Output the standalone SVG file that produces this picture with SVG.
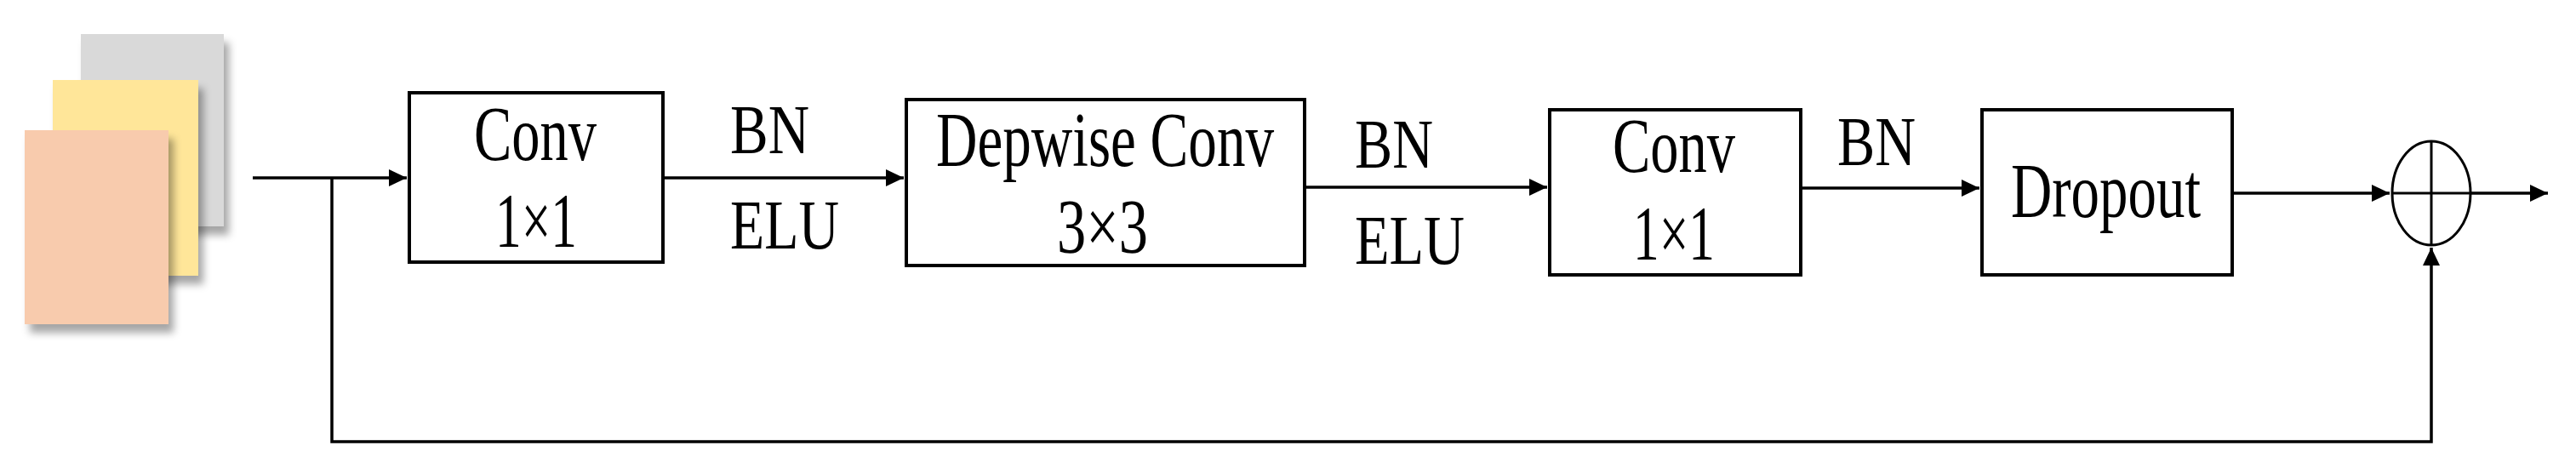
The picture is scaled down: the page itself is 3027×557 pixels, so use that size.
<svg xmlns="http://www.w3.org/2000/svg" width="3027" height="557" viewBox="0 0 3027 557">
<style>
.box{fill:#fff;stroke:#000;stroke-width:4}
.t{font-family:"Liberation Serif",serif;font-size:90px;fill:#000}
.l{font-size:82px}
.c{fill:none;stroke:#000;stroke-width:3.5}
</style>
<defs>
<marker id="a" markerWidth="8" markerHeight="8" refX="7" refY="4" orient="auto" markerUnits="userSpaceOnUse" viewBox="0 0 8 8" style="overflow:visible"><path d="M-14,-6 L7,4 L-14,14 Z" fill="#000"/></marker>
<filter id="sh" x="-20%" y="-20%" width="150%" height="150%"><feDropShadow dx="6" dy="10" stdDeviation="5" flood-color="#000" flood-opacity="0.35"/></filter>
</defs>
<g id="input">
<rect x="95" y="40" width="168" height="226" fill="#d9d9d9" filter="url(#sh)"/>
<rect x="62" y="94" width="171" height="230" fill="#ffe699" filter="url(#sh)"/>
<rect x="29" y="153" width="169" height="228" fill="#f8cbad" filter="url(#sh)"/>
</g>
<g id="conv1">
<rect class="box" x="481" y="109" width="298" height="199"/>
<text class="t" x="557" y="188" textLength="144" lengthAdjust="spacingAndGlyphs">Conv</text>
<text class="t" x="582" y="290" textLength="96" lengthAdjust="spacingAndGlyphs">1×1</text>
</g>
<g id="bnelu1">
<text class="t l" x="858" y="180" textLength="93" lengthAdjust="spacingAndGlyphs">BN</text>
<text class="t l" x="858" y="292" textLength="128" lengthAdjust="spacingAndGlyphs">ELU</text>
</g>
<g id="depwise">
<rect class="box" x="1065" y="117" width="468" height="195"/>
<text class="t" x="1100" y="195" textLength="397" lengthAdjust="spacingAndGlyphs">Depwise Conv</text>
<text class="t" x="1242" y="297" textLength="107" lengthAdjust="spacingAndGlyphs">3×3</text>
</g>
<g id="bnelu2">
<text class="t l" x="1592" y="197" textLength="92" lengthAdjust="spacingAndGlyphs">BN</text>
<text class="t l" x="1592" y="310" textLength="129" lengthAdjust="spacingAndGlyphs">ELU</text>
</g>
<g id="conv2">
<rect class="box" x="1821" y="129" width="295" height="194"/>
<text class="t" x="1895" y="202" textLength="144" lengthAdjust="spacingAndGlyphs">Conv</text>
<text class="t" x="1919" y="305" textLength="96" lengthAdjust="spacingAndGlyphs">1×1</text>
</g>
<g id="bn3">
<text class="t l" x="2159" y="194" textLength="92" lengthAdjust="spacingAndGlyphs">BN</text>
</g>
<g id="dropout">
<rect class="box" x="2329" y="129" width="294" height="194"/>
<text class="t" x="2363" y="255" textLength="223" lengthAdjust="spacingAndGlyphs">Dropout</text>
</g>
<g id="add">
<ellipse cx="2857" cy="227" rx="46" ry="61" fill="none" stroke="#000" stroke-width="3"/>
<line x1="2811" y1="227" x2="2903" y2="227" stroke="#000" stroke-width="3"/>
<line x1="2857" y1="166" x2="2857" y2="288" stroke="#000" stroke-width="3"/>
</g>
<g id="connectors">
<path class="c" d="M297,209 H478" marker-end="url(#a)"/>
<path class="c" d="M779,209 H1062" marker-end="url(#a)"/>
<path class="c" d="M1533,220 H1818" marker-end="url(#a)"/>
<path class="c" d="M2116,221 H2326" marker-end="url(#a)"/>
<path class="c" d="M2623,227 H2808" marker-end="url(#a)"/>
<path class="c" d="M2903,227 H2994" marker-end="url(#a)"/>
<path class="c" d="M390,209 V519 H2857 V291" marker-end="url(#a)"/>
</g>
</svg>
